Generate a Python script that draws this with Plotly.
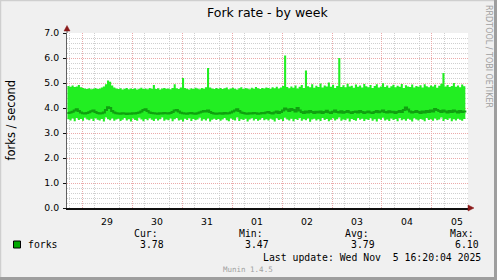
import plotly.graph_objects as go
import pandas as pd

# ---------------- data ----------------
chart_title = "Fork rate - by week"
y_title = "forks / second"
side_text = "RRDTOOL / TOBI OETIKER"
series_name = "forks"
first_sample = "2025-10-28 17:00"
view_start = "2025-10-28 16:48"
view_end = "2025-11-05 17:17"
n_samples = 192  # hourly samples

forks_max = [
    4.88, 4.85, 4.90, 4.84, 4.86, 4.92, 4.83, 4.80, 4.78, 4.76, 4.79, 4.75, 4.77, 4.80, 4.76, 4.78, 4.82, 4.86, 4.95, 5.10, 5.05, 4.90, 4.82, 4.78,
    4.76, 4.79, 4.74, 4.77, 4.80, 4.75, 4.78, 4.76, 4.79, 4.74, 4.77, 4.81, 4.76, 4.78, 4.75, 4.80, 4.77, 4.92, 4.76, 4.79, 4.74, 4.78, 4.80, 4.77,
    4.78, 4.75, 4.80, 4.95, 4.79, 4.76, 4.82, 5.20, 4.80, 4.77, 4.74, 4.79, 4.76, 4.81, 4.78, 4.75, 4.80, 4.77, 4.83, 5.60, 4.82, 4.78, 4.76, 4.80,
    4.77, 4.80, 4.76, 4.79, 4.82, 4.75, 4.78, 4.81, 4.77, 4.74, 4.79, 4.83, 4.76, 4.80, 4.78, 4.75, 4.81, 4.77, 4.84, 4.79, 4.76, 4.80, 4.78, 4.82,
    4.80, 4.77, 4.83, 4.79, 4.85, 4.78, 4.82, 4.88, 6.10, 4.84, 4.79, 4.86, 4.81, 4.90, 4.78, 4.85, 4.92, 4.80, 5.50, 4.87, 4.83, 4.95, 4.81, 4.89,
    4.84, 4.98, 4.82, 4.90, 4.86, 5.02, 4.85, 4.93, 4.80, 4.88, 6.00, 4.84, 4.91, 4.83, 4.97, 4.86, 4.89, 4.81, 4.94, 4.85, 4.90, 4.82, 4.96, 4.87,
    4.83, 4.92, 4.80, 4.88, 4.95, 4.82, 4.86, 4.99, 4.84, 4.90, 4.81, 4.87, 4.93, 4.83, 4.89, 4.85, 4.96, 4.80, 4.91, 4.86, 4.84, 4.94, 4.82, 4.88,
    4.85, 4.91, 4.82, 4.95, 4.87, 4.83, 4.90, 4.86, 4.93, 4.81, 4.89, 4.97, 5.40, 4.86, 4.92, 4.84, 4.88, 5.00, 4.85, 4.90, 4.83, 4.94, 4.87, 4.86,
]

forks_min = [
    3.55, 3.50, 3.58, 3.47, 3.60, 3.52, 3.56, 3.49, 3.61, 3.54, 3.51, 3.57, 3.48, 3.59, 3.53, 3.50, 3.56, 3.46, 3.62, 3.55, 3.51, 3.58, 3.49, 3.54,
    3.57, 3.48, 3.53, 3.60, 3.50, 3.55, 3.46, 3.58, 3.52, 3.49, 3.61, 3.54, 3.47, 3.56, 3.51, 3.59, 3.53, 3.48, 3.57, 3.50, 3.55, 3.62, 3.49, 3.54,
    3.51, 3.58, 3.47, 3.55, 3.60, 3.50, 3.53, 3.46, 3.57, 3.52, 3.59, 3.48, 3.56, 3.51, 3.54, 3.61, 3.49, 3.55, 3.50, 3.58, 3.46, 3.53, 3.57, 3.52,
    3.56, 3.49, 3.54, 3.60, 3.51, 3.47, 3.58, 3.53, 3.50, 3.62, 3.48, 3.55, 3.52, 3.57, 3.46, 3.54, 3.59, 3.50, 3.56, 3.49, 3.53, 3.60, 3.51, 3.55,
    3.50, 3.57, 3.53, 3.46, 3.59, 3.52, 3.55, 3.48, 3.61, 3.54, 3.50, 3.57, 3.47, 3.56, 3.52, 3.60, 3.49, 3.55, 3.51, 3.58, 3.45, 3.54, 3.57, 3.50,
    3.55, 3.48, 3.60, 3.52, 3.56, 3.47, 3.53, 3.59, 3.50, 3.55, 3.62, 3.49, 3.54, 3.51, 3.58, 3.46, 3.56, 3.52, 3.49, 3.60, 3.53, 3.57, 3.48, 3.55,
    3.52, 3.59, 3.49, 3.55, 3.46, 3.57, 3.53, 3.61, 3.50, 3.54, 3.48, 3.58, 3.52, 3.56, 3.47, 3.60, 3.51, 3.55, 3.49, 3.57, 3.53, 3.46, 3.59, 3.54,
    3.50, 3.56, 3.53, 3.47, 3.60, 3.52, 3.55, 3.49, 3.58, 3.51, 3.54, 3.62, 3.48, 3.56, 3.52, 3.59, 3.47, 3.55, 3.50, 3.57, 3.53, 3.49, 3.56, 3.52,
]

forks_avg = [
    3.80, 3.82, 3.85, 3.90, 3.95, 3.88, 3.82, 3.79, 3.78, 3.80, 3.83, 3.87, 3.90, 3.84, 3.80, 3.78, 3.79, 3.82, 3.92, 4.03, 4.00, 3.88, 3.82, 3.79,
    3.78, 3.77, 3.79, 3.78, 3.76, 3.78, 3.77, 3.79, 3.78, 3.80, 3.82, 3.86, 3.92, 3.95, 3.88, 3.82, 3.80, 3.79, 3.78, 3.77, 3.79, 3.78, 3.80, 3.79,
    3.78, 3.80, 3.84, 3.90, 3.92, 3.86, 3.81, 3.79, 3.78, 3.77, 3.79, 3.80, 3.78, 3.77, 3.79, 3.82, 3.85, 3.88, 3.86, 3.90, 3.84, 3.80, 3.78, 3.77,
    3.78, 3.79, 3.77, 3.80, 3.78, 3.79, 3.82, 3.86, 3.90, 3.95, 3.88, 3.82, 3.80, 3.78, 3.77, 3.79, 3.78, 3.80, 3.79, 3.77, 3.78, 3.80, 3.79, 3.82,
    3.84, 3.80, 3.78, 3.82, 3.86, 3.80, 3.84, 3.90, 3.98, 3.94, 3.88, 3.96, 3.92, 3.86, 4.00, 3.90, 3.84, 3.80, 3.86, 3.82, 3.88, 3.84, 3.80, 3.85,
    3.82, 3.86, 3.80, 3.84, 3.89, 3.83, 3.80, 3.85, 3.90, 3.84, 3.82, 3.87, 3.81, 3.84, 3.88, 3.83, 3.80, 3.84, 3.86, 3.82, 3.88, 3.84, 3.80, 3.83,
    3.86, 3.82, 3.80, 3.84, 3.88, 3.83, 3.86, 3.90, 3.84, 3.82, 3.87, 3.83, 3.85, 3.80, 3.84, 3.88, 3.84, 3.92, 4.02, 3.94, 3.86, 3.82, 3.84, 3.88,
    3.84, 3.80, 3.86, 3.82, 3.88, 3.84, 3.90, 3.86, 3.96, 3.92, 3.88, 3.84, 3.90, 3.86, 3.82, 3.88, 3.84, 3.90, 3.86, 3.82, 3.88, 3.84, 3.86, 3.82,
]

legend_headers = ["Cur:", "Min:", "Avg:", "Max:"]
legend_values = ["3.78", "3.47", "3.79", "6.10"]
last_update = "Last update: Wed Nov\u00a0\u00a05 16:20:04 2025"
footer = "Munin 1.4.5"

times = pd.date_range(first_sample, periods=n_samples, freq="h")

# ---------------- style ----------------
W, H = 497, 280
L, R, T, B = 67, 468, 33, 208
BAND = "#22EE22"
LINE = "#10A010"
GRID = "#CFCFCF"
MGRID = "#EBAAAA"
ARROW = "#8B1A1A"
SANS = "DejaVu Sans"
MONO = "DejaVu Sans Mono"
DOTS = "1px,1px"


def px(x):
    return (x - L) / (R - L)


def py(y):
    return (B - y) / (B - T)


fig = go.Figure()
fig.add_trace(go.Scatter(x=times, y=forks_min, mode="lines", line=dict(width=0, shape="hv"),
                         showlegend=False, hoverinfo="skip"))
fig.add_trace(go.Scatter(x=times, y=forks_max, mode="lines", line=dict(width=0, shape="hv"),
                         fill="tonexty", fillcolor=BAND, showlegend=False, hoverinfo="skip"))
fig.add_trace(go.Scatter(x=times, y=forks_avg, mode="lines", line=dict(width=2, color=LINE, shape="hv"),
                         name=series_name, showlegend=False))
# invisible trace to carry the midnight grid axis
fig.add_trace(go.Scatter(x=times, y=forks_avg, xaxis="x2", mode="lines", line=dict(width=0),
                         opacity=0, showlegend=False, hoverinfo="skip"))

fig.update_layout(
    width=W, height=H, autosize=False,
    margin=dict(l=L, r=W - R, t=T, b=H - B, pad=0),
    paper_bgcolor="#F0F0F0", plot_bgcolor="#FFFFFF",
    font=dict(family=SANS, size=9.3, color="#000000"),
    xaxis=dict(
        type="date", range=[view_start, view_end],
        tick0="2025-10-29 12:00", dtick=86400000, tickformat="%d",
        showgrid=False, ticks="", ticklabelstandoff=4,
        showline=True, linecolor="#101010", linewidth=2,
        zeroline=False,
        minor=dict(dtick=21600000, tick0="2025-10-29 00:00", showgrid=True,
                   gridcolor=GRID, griddash=DOTS, gridwidth=1),
        tickfont=dict(family=SANS, size=9.3, color="#000000"),
    ),
    xaxis2=dict(
        type="date", overlaying="x", range=[view_start, view_end],
        tick0="2025-10-29 00:00", dtick=86400000,
        showgrid=True, gridcolor=MGRID, griddash=DOTS, gridwidth=1,
        showticklabels=False, ticks="", showline=False, zeroline=False,
    ),
    yaxis=dict(
        range=[0, 7], dtick=1, tickformat=".1f",
        showgrid=True, gridcolor=MGRID, griddash=DOTS, gridwidth=1,
        ticks="outside", ticklen=3, tickcolor="#101010", tickwidth=1,
        ticklabelstandoff=2,
        showline=True, linecolor="#606060", linewidth=1, zeroline=False,
        minor=dict(dtick=0.2, showgrid=True, gridcolor=GRID, griddash=DOTS, gridwidth=1),
        tickfont=dict(family=SANS, size=9.3, color="#000000"),
    ),
)

ann = []
ann.append(dict(text=chart_title, x=px(267.5), y=py(13), xref="paper", yref="paper",
                showarrow=False, xanchor="center", yanchor="middle",
                font=dict(family=SANS, size=12.5, color="#000000")))
ann.append(dict(text=y_title, x=px(10), y=py(120.5), xref="paper", yref="paper",
                showarrow=False, xanchor="center", yanchor="middle", textangle=-90,
                font=dict(family=SANS, size=11.5, color="#000000")))
ann.append(dict(text=side_text, x=px(488.5), y=py(56.5), xref="paper", yref="paper",
                showarrow=False, xanchor="center", yanchor="middle", textangle=90,
                font=dict(family=SANS, size=8, color="#A0A0A0")))
ann.append(dict(text=series_name, x=px(26), y=py(244.5), xref="paper", yref="paper",
                showarrow=False, xanchor="left", yanchor="middle",
                font=dict(family=MONO, size=9.8, color="#000000")))
head_x = [132, 237, 343, 448]
val_x = [138, 243, 349, 453]
for hx, vx, h, v in zip(head_x, val_x, legend_headers, legend_values):
    ann.append(dict(text=h, x=px(hx), y=py(233), xref="paper", yref="paper",
                    showarrow=False, xanchor="left", yanchor="middle",
                    font=dict(family=MONO, size=9.8, color="#000000")))
    ann.append(dict(text=v, x=px(vx), y=py(244.5), xref="paper", yref="paper",
                    showarrow=False, xanchor="left", yanchor="middle",
                    font=dict(family=MONO, size=9.8, color="#000000")))
ann.append(dict(text=last_update, x=px(483), y=py(257), xref="paper", yref="paper",
                showarrow=False, xanchor="right", yanchor="middle",
                font=dict(family=MONO, size=9.8, color="#000000")))
ann.append(dict(text=footer, x=px(248), y=py(269.5), xref="paper", yref="paper",
                showarrow=False, xanchor="center", yanchor="middle",
                font=dict(family=MONO, size=7.5, color="#A0A0A0")))
fig.update_layout(annotations=ann)


def pth(points):
    return "M " + " L ".join(f"{px(a):.5f},{py(b):.5f}" for a, b in points) + " Z"


shapes = []
# legend swatch
shapes.append(dict(type="rect", xref="paper", yref="paper", x0=px(13.5), x1=px(20.5), y0=py(248), y1=py(241),
                   fillcolor="#00A800", line=dict(color="#000000", width=1)))
# axis arrows
shapes.append(dict(type="line", xref="paper", yref="paper", x0=px(67), x1=px(67), y0=py(33), y1=py(29),
                   line=dict(color="#606060", width=1)))
shapes.append(dict(type="path", xref="paper", yref="paper", path=pth([(67, 25.5), (64, 31), (70, 31)]),
                   fillcolor=ARROW, line=dict(color=ARROW, width=0.5)))
shapes.append(dict(type="path", xref="paper", yref="paper", path=pth([(474, 208), (468, 205), (468, 211)]),
                   fillcolor=ARROW, line=dict(color=ARROW, width=0.5)))
# 3D frame
shapes.append(dict(type="line", xref="paper", yref="paper", x0=px(0), x1=px(497), y0=py(0.5), y1=py(0.5),
                   line=dict(color="#CFCFCF", width=1.5)))
shapes.append(dict(type="line", xref="paper", yref="paper", x0=px(0.5), x1=px(0.5), y0=py(0), y1=py(280),
                   line=dict(color="#CFCFCF", width=1.5)))
shapes.append(dict(type="line", xref="paper", yref="paper", x0=px(0), x1=px(497), y0=py(278.5), y1=py(278.5),
                   line=dict(color="#9E9E9E", width=3)))
shapes.append(dict(type="line", xref="paper", yref="paper", x0=px(495.5), x1=px(495.5), y0=py(0), y1=py(280),
                   line=dict(color="#9E9E9E", width=3)))
fig.update_layout(shapes=shapes)

fig.write_html("out.html")
